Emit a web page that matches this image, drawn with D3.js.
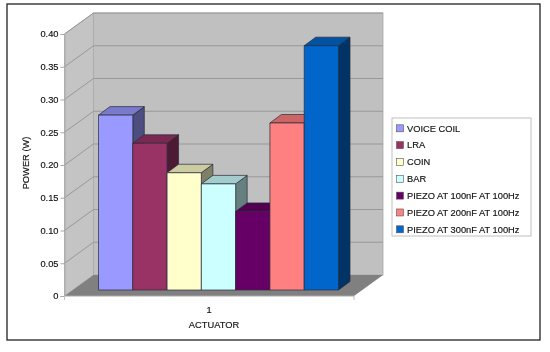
<!DOCTYPE html>
<html>
<head>
<meta charset="utf-8">
<script src="https://cdn.jsdelivr.net/npm/d3@7"></script>
<style>
  html, body { margin: 0; padding: 0; background: #fff; }
  /* the reference is a soft, resampled screenshot */
  svg { display: block; filter: blur(0.35px); }
  text { font-family: "Liberation Sans", Arial, sans-serif; font-size: 9.3px; fill: #111; stroke: #111; stroke-width: 0.15px; }
</style>
</head>
<body>
<svg id="chart"></svg>
<script>
const seriesNames = ['VOICE COIL', 'LRA', 'COIN', 'BAR',
  'PIEZO AT 100nF AT 100Hz', 'PIEZO AT 200nF AT 100Hz', 'PIEZO AT 300nF AT 100Hz'];
const seriesValues = [0.267, 0.224, 0.179, 0.162, 0.12, 0.255, 0.373];
const seriesColors = ['#9999ff', '#993366', '#ffffcc', '#ccffff', '#660066', '#ff8080', '#0066cc'];
const yTicks = [0, 0.05, 0.10, 0.15, 0.20, 0.25, 0.30, 0.35, 0.40];
const categoryLabel = '1';

const svg = d3.select('#chart').attr('width', 550).attr('height', 352);

// outer frame of the pasted chart
svg.append('rect')
  .attr('x', 7).attr('y', 4).attr('width', 533).attr('height', 336)
  .attr('fill', '#fff').attr('stroke', '#222').attr('stroke-width', 1.3);

const plot = { left: 64.5, right: 354, bottom: 296, top: 34 };
const wallDx = 29, wallDy = -21;   // depth of the 3d box
const barDx = 11.5, barDy = -8.5;  // depth of one bar
const barShift = -6;               // bars stand a little behind the front edge

const yScale = d3.scaleLinear().domain([0, 0.4]).range([plot.bottom, plot.top]);
const xScale = d3.scaleBand().domain(seriesNames).range([98.5, 338.5]);

const pts = a => a.map(p => p.join(',')).join(' ');

// left wall, back wall, floor
svg.append('polygon')
  .attr('points', pts([[plot.left, plot.bottom], [plot.left, plot.top],
    [plot.left + wallDx, plot.top + wallDy], [plot.left + wallDx, plot.bottom + wallDy]]))
  .attr('fill', '#c4c4c4').attr('stroke', '#a8a8a8').attr('stroke-width', 0.8);

svg.append('rect')
  .attr('x', plot.left + wallDx).attr('y', plot.top + wallDy)
  .attr('width', plot.right - plot.left).attr('height', plot.bottom - plot.top)
  .attr('fill', '#c0c0c0').attr('stroke', '#a8a8a8').attr('stroke-width', 0.8);

svg.append('polygon')
  .attr('points', pts([[plot.left, plot.bottom], [plot.left + wallDx, plot.bottom + wallDy],
    [plot.right + wallDx, plot.bottom + wallDy], [plot.right, plot.bottom]]))
  .attr('fill', '#808080');

// gridlines run along both walls
svg.append('g').selectAll('polyline')
  .data(yTicks.slice(1))
  .join('polyline')
    .attr('points', d => pts([[plot.left, yScale(d)], [plot.left + wallDx, yScale(d) + wallDy],
      [plot.right + wallDx, yScale(d) + wallDy]]))
    .attr('fill', 'none').attr('stroke', '#989898').attr('stroke-width', 1);

// value axis
const yAxis = d3.axisLeft(yScale)
  .tickValues(yTicks)
  .tickSize(4)
  .tickPadding(2)
  .tickFormat(d => d === 0 ? '0' : d3.format('.2f')(d));

const yAxisG = svg.append('g')
  .attr('transform', `translate(${plot.left},0)`)
  .call(yAxis);
yAxisG.select('.domain').attr('stroke', '#a8a8a8');
yAxisG.selectAll('.tick line').attr('stroke', '#a8a8a8');
yAxisG.selectAll('text').style('font-size', '9.3px').attr('fill', '#111');

// category axis
svg.append('line')
  .attr('x1', plot.left).attr('x2', plot.right)
  .attr('y1', plot.bottom).attr('y2', plot.bottom)
  .attr('stroke', '#a8a8a8');
svg.selectAll('.xTick')
  .data([plot.left, plot.right])
  .join('line')
    .attr('class', 'xTick')
    .attr('x1', d => d).attr('x2', d => d)
    .attr('y1', plot.bottom).attr('y2', plot.bottom + 4)
    .attr('stroke', '#c0c0c0');

svg.append('text')
  .attr('x', 209).attr('y', 313)
  .attr('text-anchor', 'middle')
  .text(categoryLabel);

svg.append('text')
  .attr('x', 214).attr('y', 328)
  .attr('text-anchor', 'middle')
  .text('ACTUATOR');

svg.append('text')
  .attr('transform', 'translate(29,163) rotate(-90)')
  .attr('text-anchor', 'middle')
  .text('POWER (W)');

// bars, left to right so each one hides the side of the one before
const shade = (c, k) => {
  const r = d3.rgb(c);
  return d3.rgb(r.r * k, r.g * k, r.b * k).formatHex();
};

const bars = svg.append('g').selectAll('g')
  .data(seriesNames.map((name, i) => ({ name, value: seriesValues[i], color: seriesColors[i] })))
  .join('g')
    .attr('stroke', '#2a2a3a').attr('stroke-width', 0.7).attr('stroke-linejoin', 'round');

bars.append('polygon')
  .attr('points', d => {
    const x1 = xScale(d.name) + xScale.bandwidth();
    const y0 = yScale(d.value) + barShift, y1 = plot.bottom + barShift;
    return pts([[x1, y0], [x1 + barDx, y0 + barDy], [x1 + barDx, y1 + barDy], [x1, y1]]);
  })
  .attr('fill', d => shade(d.color, 0.5));

bars.append('polygon')
  .attr('points', d => {
    const x0 = xScale(d.name), x1 = x0 + xScale.bandwidth();
    const y0 = yScale(d.value) + barShift;
    return pts([[x0, y0], [x0 + barDx, y0 + barDy], [x1 + barDx, y0 + barDy], [x1, y0]]);
  })
  .attr('fill', d => shade(d.color, 0.8));

bars.append('rect')
  .attr('x', d => xScale(d.name))
  .attr('y', d => yScale(d.value) + barShift)
  .attr('width', xScale.bandwidth())
  .attr('height', d => plot.bottom - yScale(d.value))
  .attr('fill', d => d.color);

// legend
svg.append('rect')
  .attr('x', 392).attr('y', 118).attr('width', 139).attr('height', 118)
  .attr('fill', '#fff').attr('stroke', '#c0c0c0').attr('stroke-width', 1);

const legendY = d3.scalePoint().domain(seriesNames).range([128.3, 229.3]);

const legendItems = svg.append('g').selectAll('g')
  .data(seriesNames)
  .join('g')
    .attr('transform', d => `translate(0,${legendY(d)})`);

legendItems.append('rect')
  .attr('x', 396.5).attr('y', -3.5).attr('width', 7).attr('height', 7)
  .attr('fill', (d, i) => seriesColors[i])
  .attr('stroke', '#555').attr('stroke-width', 0.6);

legendItems.append('text')
  .attr('x', 407).attr('y', 3.3)
  .text(d => d);
</script>
</body>
</html>
